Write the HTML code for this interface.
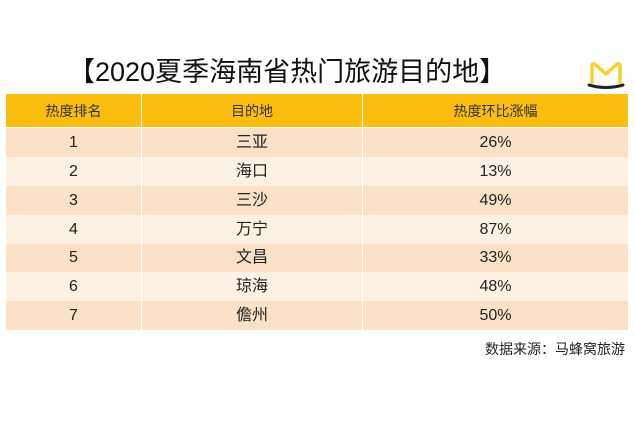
<!DOCTYPE html>
<html><head><meta charset="utf-8"><style>
body{margin:0;width:635px;height:427px;background:#fff;position:relative;overflow:hidden;font-family:"Liberation Sans","Noto Sans CJK SC",sans-serif;color:#222}
.t{position:absolute;left:68px;top:54px;width:430px;text-align:center;font-size:27px;line-height:36px;color:#111;white-space:nowrap}
.r{position:absolute;left:6px;width:622px;display:flex}
.r div{box-sizing:border-box;text-align:center;font-size:16px;line-height:18px;display:flex;align-items:center;justify-content:center}
.r div span{display:block;height:18px;line-height:18px}
.c1{width:136px;border-right:1.5px solid #fff}.c2{width:221px;border-right:1.5px solid #fff}.c3{flex:1}
.h{top:94px;height:33px;background:#fbbd0f}.h div{font-size:14px;color:#333}
.a{background:#fbe1c6}.b{background:#fdf1e4}
.s{position:absolute;right:10px;top:339px;font-size:14px;color:#222}
</style></head><body>
<div class="t">【2020夏季海南省热门旅游目的地】</div>
<svg style="position:absolute;left:586px;top:58px" width="40" height="32" viewBox="0 0 40 32">
<path d="M6 24 V9 Q6 4 10 7 L20 16 L30 7 Q34 4 34 9 V24" fill="none" stroke="#f2d12b" stroke-width="3.5" stroke-linejoin="round" stroke-linecap="round"/>
<path d="M3 27 Q20 32 37 27" fill="none" stroke="#222" stroke-width="3" stroke-linecap="round"/>
</svg>
<div class="r h"><div class="c1">热度排名</div><div class="c2">目的地</div><div class="c3">热度环比涨幅</div></div>
<div class="r a" style="top:128px;height:29px"><div class="c1">1</div><div class="c2"><span>三亚</span></div><div class="c3">26%</div></div>
<div class="r b" style="top:157px;height:29px"><div class="c1">2</div><div class="c2"><span>海口</span></div><div class="c3">13%</div></div>
<div class="r a" style="top:186px;height:29px"><div class="c1">3</div><div class="c2"><span>三沙</span></div><div class="c3">49%</div></div>
<div class="r b" style="top:215px;height:29px"><div class="c1">4</div><div class="c2"><span>万宁</span></div><div class="c3">87%</div></div>
<div class="r a" style="top:244px;height:28px"><div class="c1">5</div><div class="c2"><span>文昌</span></div><div class="c3">33%</div></div>
<div class="r b" style="top:272px;height:29px"><div class="c1">6</div><div class="c2"><span>琼海</span></div><div class="c3">48%</div></div>
<div class="r a" style="top:301px;height:29px"><div class="c1">7</div><div class="c2"><span>儋州</span></div><div class="c3">50%</div></div>
<div class="s">数据来源：马蜂窝旅游</div>
</body></html>
